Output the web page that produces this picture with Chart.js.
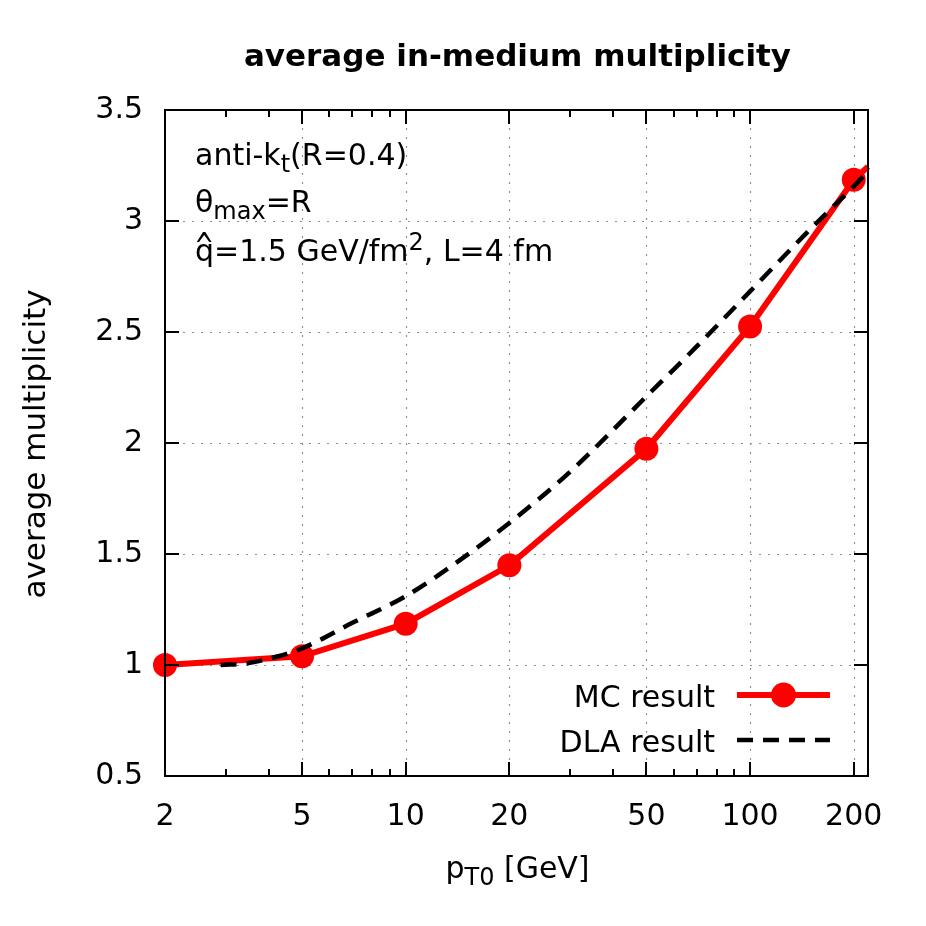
<!DOCTYPE html>
<html><head><meta charset="utf-8">
<script src="https://cdn.jsdelivr.net/npm/chart.js@4"></script>
<style>html,body{margin:0;padding:0;background:#fff}#wrap{width:926px;height:926px}</style>
</head><body><div id="wrap"><canvas id="c" width="926" height="926"></canvas></div>
<script>
// ---- data ----
const mcX = [2, 5, 10, 20, 50, 100, 200, 220];
const mcY = [1.0, 1.039, 1.186, 1.449, 1.974, 2.525, 3.186, 3.245];
const mcMarker = [true, true, true, true, true, true, true, false];
const dlaX = [2.9, 3.5, 4.2, 5, 7, 10, 14, 20, 30, 50, 70, 100, 150, 200, 220];
const dlaY = [1.0, 1.009, 1.037, 1.075, 1.19, 1.31, 1.46, 1.64, 1.87, 2.21, 2.435, 2.683, 2.965, 3.156, 3.223];
const xTicks = [2, 5, 10, 20, 50, 100, 200];
const xMinorTicks = [3, 4, 6, 7, 8, 9, 30, 40, 60, 70, 80, 90];
const yTicks = [0.5, 1, 1.5, 2, 2.5, 3, 3.5];
const seriesNames = ['MC result', 'DLA result'];
const titleText = 'average in-medium multiplicity';
const yTitle = 'average multiplicity';

const FONT = 'DejaVu Sans';
const RED = '#ff0000';

function setFont(ctx, p) { ctx.font = (p.bold ? 'bold ' : '') + p.size + 'px "' + FONT + '"'; }

function drawRich(ctx, x, y, parts, align) {
  let w = 0;
  parts.forEach(p => { setFont(ctx, p); p.w = ctx.measureText(p.t).width; w += p.w; });
  let cx = align === 'center' ? x - w / 2 : (align === 'right' ? x - w : x);
  ctx.textAlign = 'left';
  ctx.textBaseline = 'alphabetic';
  const pos = [];
  parts.forEach(p => {
    setFont(ctx, p);
    ctx.fillText(p.t, cx, y + (p.dy || 0));
    pos.push({x: cx, w: p.w});
    cx += p.w;
  });
  return pos;
}

// draw a caret text glyph fitted into a box above a letter
function drawHat(ctx, cx, top, bottom, width) {
  ctx.save();
  ctx.font = '30px "' + FONT + '"';
  ctx.textAlign = 'left';
  ctx.textBaseline = 'alphabetic';
  const g = '^';
  const m = ctx.measureText(g);
  const gw = m.actualBoundingBoxLeft + m.actualBoundingBoxRight;
  const gh = m.actualBoundingBoxAscent + m.actualBoundingBoxDescent;
  const sx = width / gw, sy = (bottom - top) / gh;
  ctx.translate(cx - width / 2, top);
  ctx.scale(sx, sy);
  ctx.fillText(g, m.actualBoundingBoxLeft, m.actualBoundingBoxAscent);
  ctx.restore();
}

const decor = {
  id: 'decor',
  beforeDatasetsDraw(chart) {
    const {ctx, chartArea: a, scales: {x, y}} = chart;
    ctx.save();
    ctx.strokeStyle = '#909090';
    ctx.lineWidth = 1.2;
    ctx.setLineDash([2, 7]);
    xTicks.forEach(v => {
      if (v === 2) return;
      const px = Math.round(x.getPixelForValue(v)) + 0.5;
      ctx.beginPath(); ctx.moveTo(px, a.top); ctx.lineTo(px, a.bottom); ctx.stroke();
    });
    yTicks.forEach(v => {
      if (v === 0.5 || v === 3.5) return;
      const py = Math.round(y.getPixelForValue(v)) + 0.5;
      ctx.beginPath(); ctx.moveTo(a.left, py); ctx.lineTo(a.right, py); ctx.stroke();
    });
    ctx.restore();
  },
  afterDatasetsDraw(chart) {
    const {ctx, chartArea: a, scales: {x, y}} = chart;
    ctx.save();
    ctx.strokeStyle = '#000';
    ctx.lineWidth = 2;
    ctx.setLineDash([]);
    const tick = (x1, y1, x2, y2) => { ctx.beginPath(); ctx.moveTo(x1, y1); ctx.lineTo(x2, y2); ctx.stroke(); };
    xTicks.forEach(v => {
      const px = Math.round(x.getPixelForValue(v));
      tick(px, a.bottom, px, a.bottom - 14);
      tick(px, a.top, px, a.top + 14);
    });
    xMinorTicks.forEach(v => {
      const px = Math.round(x.getPixelForValue(v));
      tick(px, a.bottom, px, a.bottom - 7);
      tick(px, a.top, px, a.top + 7);
    });
    yTicks.forEach(v => {
      const py = Math.round(y.getPixelForValue(v));
      tick(a.left, py, a.left + 14, py);
      tick(a.right, py, a.right - 14, py);
    });
    ctx.strokeRect(a.left, a.top, a.right - a.left, a.bottom - a.top);
    ctx.restore();
  },
  afterDraw(chart) {
    const {ctx, chartArea: a} = chart;
    ctx.save();
    ctx.fillStyle = '#000';
    // title
    drawRich(ctx, (a.left + a.right) / 2 + 1, 66, [{t: titleText, size: 31, bold: true}], 'center');
    // x title
    drawRich(ctx, (a.left + a.right) / 2 + 1, 878, [
      {t: 'p', size: 30}, {t: 'T0', size: 24, dy: 7}, {t: ' [GeV]', size: 30}
    ], 'center');
    // y title
    ctx.save();
    ctx.translate(45, 444);
    ctx.rotate(-Math.PI / 2);
    ctx.font = '31px "' + FONT + '"';
    ctx.textAlign = 'center';
    ctx.textBaseline = 'alphabetic';
    ctx.fillText(yTitle, 0, 0);
    ctx.restore();
    // annotations
    drawRich(ctx, 195, 165, [{t: 'anti-k', size: 30}, {t: 't', size: 24, dy: 7}, {t: '(R=0.4)', size: 30}], 'left');
    drawRich(ctx, 195, 212, [{t: '\u03b8', size: 30}, {t: 'max', size: 24, dy: 7}, {t: '=R', size: 30}], 'left');
    const qp = drawRich(ctx, 195, 261, [{t: 'q', size: 30}, {t: '=1.5 GeV/fm', size: 30}, {t: '2', size: 24, dy: -11}, {t: ', L=4 fm', size: 30}], 'left');
    drawHat(ctx, qp[0].x + qp[0].w / 2 - 0.5, 231, 242, 15);
    // legend
    ctx.fillStyle = '#000';
    drawRich(ctx, 715, 707, [{t: seriesNames[0], size: 30}], 'right');
    drawRich(ctx, 715, 752, [{t: seriesNames[1], size: 30}], 'right');
    ctx.strokeStyle = RED; ctx.lineWidth = 6; ctx.setLineDash([]);
    ctx.beginPath(); ctx.moveTo(737, 695); ctx.lineTo(830, 695); ctx.stroke();
    ctx.fillStyle = RED;
    ctx.beginPath(); ctx.arc(783.5, 695, 12.5, 0, Math.PI * 2); ctx.fill();
    ctx.strokeStyle = '#000'; ctx.lineWidth = 4.5; ctx.setLineDash([16, 10]);
    ctx.beginPath(); ctx.moveTo(737, 740); ctx.lineTo(830, 740); ctx.stroke();
    ctx.restore();
  }
};

new Chart(document.getElementById('c'), {
  type: 'line',
  data: {
    datasets: [
      {
        label: seriesNames[1],
        data: dlaX.map((v, i) => ({x: v, y: dlaY[i]})),
        borderColor: '#000', backgroundColor: '#000',
        borderWidth: 4.5, borderDash: [16, 10],
        pointRadius: 0, pointHoverRadius: 0,
        cubicInterpolationMode: 'monotone',
        clip: false, order: 0, fill: false
      },
      {
        label: seriesNames[0],
        data: mcX.map((v, i) => ({x: v, y: mcY[i]})),
        borderColor: RED, backgroundColor: RED,
        borderWidth: 6, tension: 0,
        pointRadius: mcMarker.map(m => m ? 12 : 0),
        pointHoverRadius: mcMarker.map(m => m ? 12 : 0),
        pointBorderWidth: 0, pointBackgroundColor: RED,
        clip: false, order: 1, fill: false
      }
    ]
  },
  options: {
    responsive: false, animation: false, devicePixelRatio: 1,
    events: [],
    layout: {padding: {left: 0, right: 58, top: 110, bottom: 0}},
    plugins: {legend: {display: false}, title: {display: false}, tooltip: {enabled: false}},
    scales: {
      x: {
        type: 'logarithmic', min: 2, max: 220,
        afterBuildTicks: s => { s.ticks = xTicks.map(v => ({value: v})); },
        afterFit: s => { s.height = 150; },
        ticks: {
          callback: v => String(v), autoSkip: false, maxRotation: 0, minRotation: 0,
          font: {family: FONT, size: 30}, color: '#000', padding: 23
        },
        grid: {display: false, drawTicks: false},
        border: {display: false}
      },
      y: {
        type: 'linear', min: 0.5, max: 3.5,
        afterBuildTicks: s => { s.ticks = yTicks.map(v => ({value: v})); },
        afterFit: s => { s.width = 165; },
        ticks: {
          callback: v => String(v),
          font: {family: FONT, size: 30}, color: '#000', padding: 22
        },
        grid: {display: false, drawTicks: false},
        border: {display: false}
      }
    }
  },
  plugins: [decor]
});
</script>
</body></html>
